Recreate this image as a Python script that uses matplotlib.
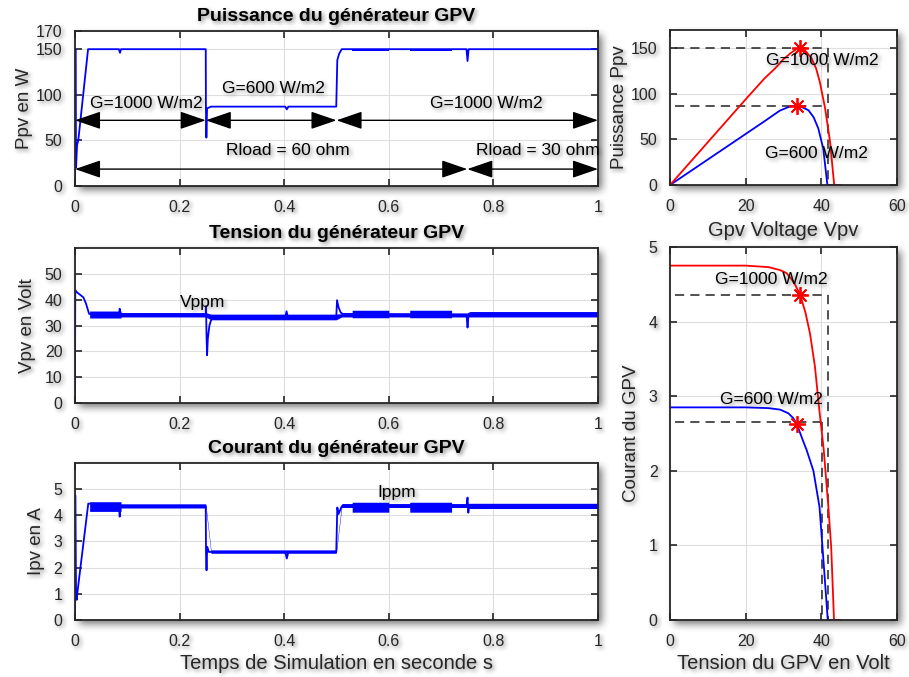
import numpy as np
import matplotlib
matplotlib.use('Agg')
import matplotlib.pyplot as plt

plt.rcParams['font.family'] = ['Liberation Sans', 'DejaVu Sans']

# --- Puissance GPV (temps, W) ---------------------------------------------
t_p = [0, 0.0008, 0.002, 0.004, 0.0063, 0.025, 0.084, 0.086, 0.088, 0.25, 0.2503,
       0.2512, 0.2525, 0.26, 0.402, 0.405, 0.408, 0.4995, 0.5015, 0.505, 0.51,
       0.7485, 0.7505, 0.7525, 1.0]
p_gpv = [0, 150, 20, 45, 50, 150, 150, 146, 150, 150, 87, 53, 85, 87, 87, 84, 87,
         87, 138, 145, 150, 150, 137, 150, 150]
# bande d'ondulation autour de Ppv
t_p_bande = [0.53, 0.60, 0.60, 0.64, 0.64, 0.72]
p_bas = [148.5, 148.5, np.nan, np.nan, 148.5, 148.5]
p_haut = [150, 150, np.nan, np.nan, 150, 150]

# --- Tension GPV ------------------------------------------------------------
t_v = [0, 0.0005, 0.004, 0.016, 0.021, 0.027, 0.084, 0.0855, 0.087, 0.25, 0.2505,
       0.2515, 0.2525, 0.254, 0.257, 0.262, 0.402, 0.4045, 0.407, 0.4995, 0.501,
       0.504, 0.508, 0.512, 0.7485, 0.7505, 0.752, 0.754, 1.0]
v_gpv = [0, 43.7, 42.8, 40.9, 38.5, 34.5, 34.3, 36.5, 34.3, 34.2, 37.5, 26, 18.5, 25,
         30, 33.2, 33.2, 35.5, 33.2, 33.2, 39.8, 37, 35, 34.5, 34.3, 29.2, 33, 34.5, 34.3]
t_v_bande = [0.028, 0.088, 0.088, 0.25, 0.26, 0.4995, 0.51, 0.53, 0.53, 0.60, 0.60,
             0.64, 0.64, 0.72, 0.72, 0.748, 0.755, 1.0]
v_bas = [32.9, 32.9, 33.3, 33.3, 32.2, 32.2, 33.3, 33.3, 33.0, 33.0, 33.3, 33.3,
         33.0, 33.0, 33.3, 33.3, 33.3, 33.3]
v_haut = [35.6, 35.6, 35.0, 35.0, 34.4, 34.4, 34.6, 34.6, 35.9, 35.9, 34.7, 34.7,
          35.9, 35.9, 34.7, 34.7, 35.4, 35.4]

# --- Courant GPV ------------------------------------------------------------
t_i = [0, 0.0005, 0.002, 0.0035, 0.0044, 0.0254, 0.084, 0.0855, 0.087, 0.25, 0.2505,
       0.2515, 0.2528, 0.256, 0.26, 0.402, 0.405, 0.408, 0.4995, 0.5015, 0.504,
       0.51, 0.7485, 0.7505, 0.752, 0.7535, 1.0]
i_gpv = [0, 4.77, 1.15, 0.77, 1.02, 4.45, 4.35, 3.95, 4.35, 4.35, 2.5, 1.9, 2.8,
         2.6, 2.6, 2.6, 2.35, 2.6, 2.6, 4.3, 4.05, 4.35, 4.35, 4.68, 4.1, 4.35, 4.35]
t_i_bande = [0.028, 0.088, 0.088, 0.25, 0.26, 0.4995, 0.51, 0.53, 0.53, 0.60, 0.60,
             0.64, 0.64, 0.72, 0.72, 0.748, 0.755, 1.0]
i_bas = [4.15, 4.15, 4.28, 4.28, 2.55, 2.55, 4.3, 4.3, 4.12, 4.12, 4.3, 4.3,
         4.12, 4.12, 4.3, 4.3, 4.26, 4.26]
i_haut = [4.52, 4.52, 4.44, 4.44, 2.68, 2.68, 4.45, 4.45, 4.5, 4.5, 4.45, 4.45,
          4.5, 4.5, 4.45, 4.45, 4.46, 4.46]

# --- Caracteristiques P-V et I-V ---------------------------------------------
vp_1000 = [0, 20, 25, 27.8, 30, 32, 33.4, 34.4, 35.5, 37.4, 38.6, 39.6, 41.0, 42.3, 43.4, 44.9]
p_1000 = [0, 94, 117, 128, 138, 145, 149, 150, 148.5, 139, 128, 113, 84, 47.5, 0, 0]
vp_600 = [0, 20, 25, 29, 31.3, 32.5, 33.5, 34.8, 36.6, 38.0, 39.2, 40.5, 41.6, 44.9]
p_600 = [0, 56, 70, 81.5, 85.5, 86.8, 87.0, 85.5, 82, 74, 62, 40, 0, 0]

vi_1000 = [0, 20, 26, 29.1, 30.8, 32.7, 34.4, 35.8, 37.0, 38.3, 39.5, 40.6, 41.85, 42.6, 43.35, 44.9]
i_1000 = [4.75, 4.75, 4.73, 4.69, 4.65, 4.53, 4.36, 4.12, 3.84, 3.4, 2.8, 2.3, 1.52, 0.98, 0, 0]
vi_600 = [0, 20, 26, 29.1, 31.3, 32.5, 33.5, 35.1, 36.1, 37.9, 39.5, 40.3, 41.7, 44.9]
i_600 = [2.85, 2.85, 2.84, 2.82, 2.77, 2.71, 2.63, 2.41, 2.28, 2.0, 1.52, 0.98, 0, 0]

# points de puissance maximale et tensions de circuit ouvert
mpp_v = [34.4, 33.5]
mpp_p = [150, 87]
mpp_i = [4.35, 2.63]
voc = [41.7, 40.1]

temps_ticks = [0, 0.2, 0.4, 0.6, 0.8, 1]
temps_labels = ['0', '0.2', '0.4', '0.6', '0.8', '1']

GRIS = '#262626'


def flou(a, r):
    k = np.ones(2 * r + 1) / (2 * r + 1)
    a = np.apply_along_axis(np.convolve, 0, a, k, mode='same')
    a = np.apply_along_axis(np.convolve, 1, a, k, mode='same')
    return a


def ombre(dx, dy, r, force):
    # ombre portee floue sous l'objet
    def filtre(im, dpi):
        pad = max(dx, dy) + 3 * r
        src = np.pad(im, [(pad, pad), (pad, pad), (0, 0)])
        s = flou(flou(src[..., 3], r), r)
        s = np.roll(np.roll(s, dx, axis=1), dy, axis=0) * force
        sa = src[..., 3:4]
        sh = s[..., None]
        a = sa + sh * (1 - sa)
        rgb = (src[..., :3] * sa + 0.3 * sh * (1 - sa)) / np.maximum(a, 1e-6)
        return np.concatenate([rgb, a], axis=-1), -pad, -pad
    return filtre


ombre_texte = ombre(2, 2, 2, 0.65)
ombre_axe = ombre(4, 4, 4, 0.75)


def style_axe(ax, xt, yt, xl=None):
    ax.set_xticks(xt)
    if xl is not None:
        ax.set_xticklabels(xl)
    ax.set_yticks(yt)
    ax.grid(True, color='#dedede', lw=0.8)
    ax.set_axisbelow(True)
    ax.tick_params(direction='in', top=True, right=True, length=5, width=1.2,
                   colors=GRIS, labelsize=11.5)
    ax.tick_params(axis='x', pad=10)
    ax.tick_params(axis='y', pad=9)
    for s in ax.spines.values():
        s.set_color(GRIS)
        s.set_linewidth(1.3)
    ax.patch.set_agg_filter(ombre_axe)
    for tk in ax.xaxis.get_major_ticks() + ax.yaxis.get_major_ticks():
        tk.label1.set_agg_filter(ombre_texte)
    for t in [ax.title, ax.xaxis.label, ax.yaxis.label]:
        t.set_agg_filter(ombre_texte)


def texte(ax, x, y, s, **kw):
    t = ax.text(x, y, s, fontsize=12.5, color='k', **kw)
    t.set_agg_filter(ombre_texte)
    return t


def fleche(ax, x0, x1, y):
    ax.annotate('', xy=(x1, y), xytext=(x0, y), annotation_clip=False,
                arrowprops=dict(arrowstyle='<|-|>,head_length=1.6,head_width=0.55',
                                color='k', lw=1.0, mutation_scale=10,
                                shrinkA=0, shrinkB=0))


fig = plt.figure(figsize=(9.09, 6.77), dpi=100)
ax1 = fig.add_axes([0.0825, 0.7253, 0.5754, 0.2290])
ax2 = fig.add_axes([0.0825, 0.4047, 0.5754, 0.2290])
ax3 = fig.add_axes([0.0825, 0.0842, 0.5754, 0.2319])
ax4 = fig.add_axes([0.7371, 0.7267, 0.2497, 0.2290])
ax5 = fig.add_axes([0.7371, 0.0842, 0.2497, 0.5510])

titre = dict(fontsize=14, fontweight='bold', pad=7)
lab = dict(fontsize=13.5, color=GRIS)
xlab = dict(fontsize=14.5, color=GRIS)

# Puissance
ax1.plot(t_p, p_gpv, color='#0000ff', lw=1.3)
ax1.fill_between(t_p_bande, p_bas, p_haut, color='#0000ff', lw=0)
ax1.set_xlim(0, 1)
ax1.set_ylim(0, 170)
style_axe(ax1, temps_ticks, [0, 50, 100, 150, 170], temps_labels)
ax1.set_title('Puissance du générateur GPV', **titre)
ax1.set_ylabel('Ppv en W', labelpad=2, **lab)
fleche(ax1, 0, 0.25, 72)
fleche(ax1, 0.25, 0.5, 72)
fleche(ax1, 0.5, 1.0, 72)
fleche(ax1, 0, 0.75, 18.5)
fleche(ax1, 0.75, 1.0, 18.5)
texte(ax1, 0.028, 90, 'G=1000 W/m2', va='center')
texte(ax1, 0.282, 106.5, 'G=600 W/m2', va='center')
texte(ax1, 0.678, 90, 'G=1000 W/m2', va='center')
texte(ax1, 0.288, 39, 'Rload = 60 ohm', va='center')
texte(ax1, 0.767, 39, 'Rload = 30 ohm', va='center')

# Tension
ax2.fill_between(t_v_bande, v_bas, v_haut, color='#0000ff', lw=0)
ax2.plot(t_v, v_gpv, color='#0000ff', lw=1.3)
ax2.set_xlim(0, 1)
ax2.set_ylim(0, 60)
style_axe(ax2, temps_ticks, [0, 10, 20, 30, 40, 50], temps_labels)
ax2.set_title('Tension du générateur GPV', **titre)
ax2.set_ylabel('Vpv en Volt', labelpad=6, **lab)
texte(ax2, 0.2, 39, 'Vppm', va='center')

# Courant
ax3.fill_between(t_i_bande, i_bas, i_haut, color='#0000ff', lw=0)
ax3.plot(t_i, i_gpv, color='#0000ff', lw=1.3)
ax3.set_xlim(0, 1)
ax3.set_ylim(0, 6)
style_axe(ax3, temps_ticks, [0, 1, 2, 3, 4, 5], temps_labels)
ax3.set_title('Courant du générateur GPV', **titre)
ax3.set_ylabel('Ipv en A', labelpad=6, **lab)
ax3.set_xlabel('Temps de Simulation en seconde s', labelpad=4, **xlab)
texte(ax3, 0.578, 4.87, 'Ippm', va='center')

# Caracteristique P-V
tirets = dict(color='#222222', lw=1.1, dashes=(6, 4))
ax4.plot([1.3, voc[0]], [mpp_p[0], mpp_p[0]], **tirets)
ax4.plot([voc[0], voc[0]], [mpp_p[0], 0], **tirets)
ax4.plot([1.3, voc[1]], [mpp_p[1], mpp_p[1]], **tirets)
ax4.plot(vp_600, p_600, color='#0000ff', lw=1.3)
ax4.plot(vp_1000, p_1000, color='#ff0000', lw=1.3)
ax4.plot(mpp_v, mpp_p, ls='none', marker=(8, 2, 0), ms=12, mew=1.3, color='#ff0000')
ax4.set_xlim(0, 60)
ax4.set_ylim(0, 170)
style_axe(ax4, [0, 20, 40, 60], [0, 50, 100, 150])
ax4.set_xlabel('Gpv Voltage Vpv', labelpad=5, **xlab)
ax4.set_ylabel('Puissance Ppv', labelpad=2, **lab)
texte(ax4, 25.3, 136, 'G=1000 W/m2', va='center')
texte(ax4, 25.0, 35, 'G=600 W/m2', va='center')

# Caracteristique I-V
ax5.plot([1.3, voc[0]], [mpp_i[0], mpp_i[0]], **tirets)
ax5.plot([voc[0], voc[0]], [mpp_i[0], 0], **tirets)
ax5.plot([1.3, voc[1]], [2.65, 2.65], **tirets)
ax5.plot([voc[1], voc[1]], [2.65, 0], **tirets)
ax5.plot(vi_600, i_600, color='#0000ff', lw=1.3)
ax5.plot(vi_1000, i_1000, color='#ff0000', lw=1.3)
ax5.plot(mpp_v, mpp_i, ls='none', marker=(8, 2, 0), ms=12, mew=1.3, color='#ff0000')
ax5.set_xlim(0, 60)
ax5.set_ylim(0, 5)
style_axe(ax5, [0, 20, 40, 60], [0, 1, 2, 3, 4, 5])
ax5.set_xlabel('Tension du GPV en Volt', labelpad=4, **xlab)
ax5.set_ylabel('Courant du GPV', labelpad=6, **lab)
texte(ax5, 11.9, 4.57, 'G=1000 W/m2', va='center')
texte(ax5, 13.2, 2.95, 'G=600 W/m2', va='center')

fig.savefig('out.png', dpi=100)
